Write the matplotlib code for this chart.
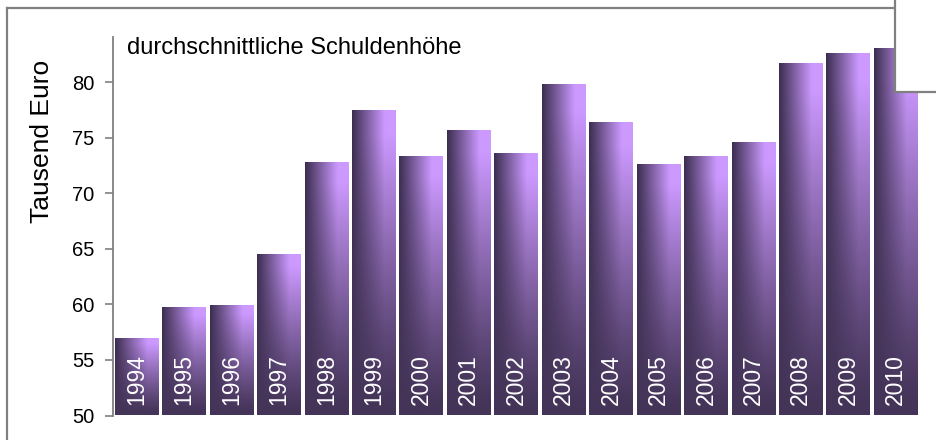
import numpy as np
import matplotlib
matplotlib.use("Agg")
import matplotlib.pyplot as plt
from matplotlib.lines import Line2D
from matplotlib.patches import Rectangle

years = ["1994", "1995", "1996", "1997", "1998", "1999", "2000", "2001", "2002",
         "2003", "2004", "2005", "2006", "2007", "2008", "2009", "2010"]
values = [57.0, 59.8, 59.9, 64.5, 72.8, 77.5, 73.3, 75.7, 73.6,
          79.8, 76.4, 72.6, 73.3, 74.6, 81.7, 82.6, 83.1]
yticks = [50, 55, 60, 65, 70, 75, 80]
title = "durchschnittliche Schuldenhöhe"
ylabel = "Tausend Euro"

plt.rcParams['font.family'] = ['Liberation Sans', 'DejaVu Sans']

W, H = 937, 440
fig = plt.figure(figsize=(W / 100, H / 100), dpi=100)
ax = fig.add_axes([112.8 / W, 1 - 415.5 / H, 806.6 / W, 378.5 / H])

ymin, ymax = 50, 84.05
ax.set_xlim(-0.5, len(years) - 0.5)
ax.set_ylim(ymin, ymax)

dark = np.array([0x3c, 0x2e, 0x50]) / 255
light = np.array([0xcc, 0x99, 0xff]) / 255
bottom_col = np.array([0x44, 0x34, 0x58]) / 255

bw = 0.917
nx, ny = 60, 120
tx = np.linspace(0, 1, nx)
hor = np.clip(tx / 0.75, 0, 1)[None, :, None]
hcol = dark[None, None, :] * (1 - hor) + light[None, None, :] * hor

for i, v in enumerate(values):
    x0, x1 = i - bw / 2, i + bw / 2
    s = np.linspace(0, 1, ny)[:, None, None]  # 0 bottom .. 1 top
    w = np.clip((s - 0.02) / 0.9, 0, 1) ** 1.2
    img = bottom_col[None, None, :] * (1 - w) + hcol * w
    im = ax.imshow(img, extent=(x0, x1, ymin, v), origin='lower',
                   aspect='auto', interpolation='bilinear', zorder=2)
    rect = Rectangle((x0, ymin), bw, v - ymin, transform=ax.transData,
                     facecolor='none', edgecolor='none')
    ax.add_patch(rect)
    im.set_clip_path(rect)
    ax.text(i, 50.95, years[i], rotation=90, ha='center', va='bottom',
            color='white', fontsize=16.5, zorder=3)

ax.set_xlim(-0.5, len(years) - 0.5)
ax.set_ylim(ymin, ymax)
ax.set_yticks(yticks)
ax.set_yticklabels([str(t) for t in yticks], fontsize=14.5)
ax.set_xticks([])
for sp in ['top', 'right', 'bottom']:
    ax.spines[sp].set_visible(False)
ax.spines['left'].set_color('#808080')
ax.spines['left'].set_linewidth(1.3)
ax.tick_params(axis='y', direction='out', length=6, width=1.2, color='#808080', pad=7)

ax.text(0.017, 1.0, title, transform=ax.transAxes, ha='left', va='top',
        fontsize=17, color='black')

fig.text(42 / W, 1 - 141 / H, ylabel, rotation=90, ha='center', va='center',
         fontsize=19, color='black')

# outer frame
fig.add_artist(Line2D([7 / W, 7 / W], [0, 1 - 8 / H], transform=fig.transFigure,
                      color='#808080', lw=1.6))
fig.add_artist(Line2D([7 / W, 895 / W], [1 - 8 / H, 1 - 8 / H], transform=fig.transFigure,
                      color='#808080', lw=1.6))
# white box top right
fig.add_artist(Rectangle((895 / W, 1 - 92 / H), (W - 895) / W, 92 / H,
                         transform=fig.transFigure, facecolor='white', edgecolor='none', zorder=10))
fig.add_artist(Line2D([895 / W, 895 / W], [1 - 92 / H, 1], transform=fig.transFigure,
                      color='#808080', lw=1.6, zorder=11))
fig.add_artist(Line2D([895 / W, 1], [1 - 92 / H, 1 - 92 / H], transform=fig.transFigure,
                      color='#808080', lw=1.6, zorder=11))

fig.savefig("out.png", dpi=100)
